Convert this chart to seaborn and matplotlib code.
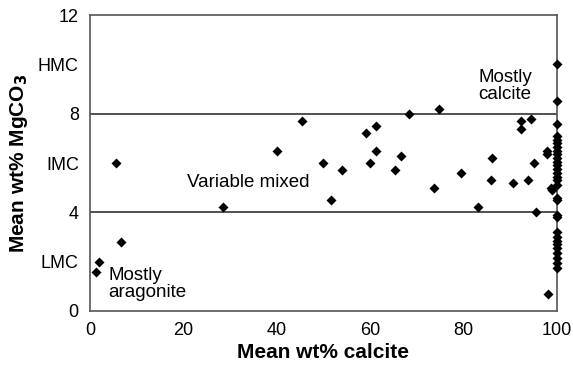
import matplotlib
matplotlib.use("Agg")
import matplotlib.pyplot as plt
import seaborn as sns
import pandas as pd

# Data
calcite = [1.3, 2.0, 5.6, 6.7, 28.5, 40.0, 45.5, 50.0, 51.6, 54.0, 59.2, 60.0, 61.2, 61.2,
           65.4, 66.7, 68.3, 73.7, 74.8, 79.5, 83.1, 86.1, 85.9, 90.6, 92.2, 92.2, 94.4,
           93.8, 95.1, 95.6, 97.8, 97.8, 98.7, 98.9, 98.1]
mgco3 = [1.6, 2.0, 6.0, 2.8, 4.2, 6.5, 7.7, 6.0, 4.5, 5.7, 7.2, 6.0, 7.5, 6.5,
         5.7, 6.3, 8.0, 5.0, 8.2, 5.6, 4.2, 6.2, 5.3, 5.2, 7.7, 7.4, 7.8,
         5.3, 6.0, 4.0, 6.5, 6.35, 5.0, 4.9, 0.7]
mgco3_at_100 = [10.0, 8.5, 7.6, 7.1, 6.95, 6.8, 6.65, 6.5, 6.35, 6.2, 6.05, 5.9, 5.75,
                5.6, 5.45, 5.3, 5.1, 4.6, 4.5, 3.9, 3.8, 3.2, 3.0, 2.85, 2.7, 2.55,
                2.35, 2.15, 1.95, 1.75]

y_ticks = [0, 2, 4, 6, 8, 10, 12]
y_tick_labels = ["0", "LMC", "4", "IMC", "8", "HMC", "12"]
x_ticks = [0, 20, 40, 60, 80, 100]
boundaries = [4, 8]

df = pd.DataFrame({
    "calcite": calcite + [100.0] * len(mgco3_at_100),
    "mgco3": mgco3 + mgco3_at_100,
})

sns.set_style("white")
plt.rcParams["font.family"] = ["Liberation Sans", "DejaVu Sans"]
plt.rcParams["text.color"] = "black"
plt.rcParams["axes.labelcolor"] = "black"
plt.rcParams["xtick.color"] = "black"
plt.rcParams["ytick.color"] = "black"

fig = plt.figure(figsize=(5.73, 3.68), dpi=100)
ax = fig.add_axes([0.157, 0.155, 0.815, 0.804])

for b in boundaries:
    ax.axhline(b, color="#333333", lw=1.2, zorder=1)

sns.scatterplot(data=df, x="calcite", y="mgco3", marker="D", s=26, color="black",
                edgecolor="black", linewidth=0, ax=ax, zorder=3, clip_on=False)

ax.set_xlim(0, 100)
ax.set_ylim(0, 12)
ax.set_xticks(x_ticks)
ax.set_yticks(y_ticks)
ax.set_yticklabels(y_tick_labels)
ax.tick_params(axis="both", direction="out", length=5, width=1.2, color="#444444",
               labelcolor="black", labelsize=13, pad=3)
# only mark numeric y ticks with tick lines
for t, lab in zip(ax.yaxis.get_major_ticks(), y_tick_labels):
    if not lab.isdigit():
        t.tick1line.set_visible(False)

for sp in ax.spines.values():
    sp.set_color("#555555")
    sp.set_linewidth(1.2)

ax.set_xlabel("Mean wt% calcite", fontsize=15, fontweight="bold", labelpad=3, color="black")
ax.set_ylabel("Mean wt% MgCO$_\\mathbf{3}$", fontsize=15, fontweight="bold", labelpad=6,
              color="black")

ax.text(83.1, 9.12, "Mostly\ncalcite", fontsize=13.5, ha="left", va="center",
        linespacing=0.95, color="black")
ax.text(20.7, 5.2, "Variable mixed", fontsize=13.5, ha="left", va="center", color="black")
ax.text(3.9, 1.1, "Mostly\naragonite", fontsize=13.5, ha="left", va="center",
        linespacing=0.95, color="black")

fig.savefig("out.png", dpi=100)
